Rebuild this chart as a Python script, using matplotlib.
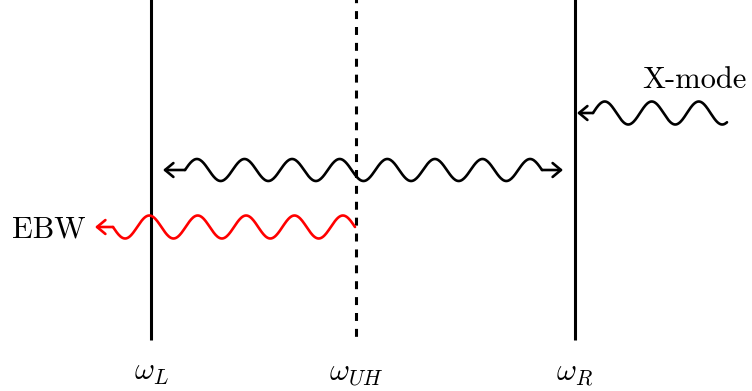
import numpy as np
import matplotlib.pyplot as plt

plt.rcParams['mathtext.fontset'] = 'cm'

# cutoff / resonance layers
layer_x = [151, 356, 575]
layer_labels = [r'$\omega_L$', r'$\omega_{UH}$', r'$\omega_R$']
layer_dashed = [False, True, False]
layer_bottom = 340

# wave packets: sine section start/end, centre line, period, amplitude
wave_start = [185, 113, 593]
wave_end = [542, 355, 727]
wave_y = [170, 227, 113]
wave_period = [47.6, 48.4, 47.0]
wave_amp = [11.0, 11.5, 11.5]
wave_dir = [-1, 1, -1]          # -1: first swing goes up on screen
wave_color = ['black', 'red', 'black']
# arrow tips: (start of straight lead, tip x)
wave_arrows = [[(185, 163), (542, 563)], [(113, 95)], [(593, 577)]]

wave_text = ['EBW', 'X-mode']
wave_text_pos = [(12, 237), (642, 88)]

fig = plt.figure(figsize=(7.52, 3.91), dpi=100)
ax = fig.add_axes([0, 0, 1, 1])
ax.set_xlim(0, 752)
ax.set_ylim(391, 0)
ax.axis('off')

for x, lab, dashed in zip(layer_x, layer_labels, layer_dashed):
    # dash lengths are scaled by the line width
    ls = (1.4, (2.6, 2.6)) if dashed else '-'
    ax.plot([x, x], [-5, layer_bottom], color='black', lw=2.2, ls=ls,
            solid_capstyle='butt', dash_capstyle='butt')
    ax.text(x, 380, lab, fontsize=22, ha='center', va='baseline')

for x0, x1, yc, per, amp, d, col, arrows in zip(
        wave_start, wave_end, wave_y, wave_period, wave_amp, wave_dir,
        wave_color, wave_arrows):
    xs = np.linspace(x0, x1, 400)
    ys = yc + d * amp * np.sin(2 * np.pi * (xs - x0) / per)
    ax.plot(xs, ys, color=col, lw=1.9, solid_capstyle='round')
    for lead, tip in arrows:
        ax.annotate('', xy=(tip, yc), xytext=(lead, yc),
                    arrowprops=dict(arrowstyle='->,head_length=0.6,head_width=0.5',
                                    color=col, lw=1.9, shrinkA=0, shrinkB=0,
                                    mutation_scale=10))

for txt, (tx, ty) in zip(wave_text, wave_text_pos):
    ax.text(tx, ty, txt, fontsize=22, family='cmr10', ha='left', va='baseline')

fig.savefig('out.png', dpi=100)
